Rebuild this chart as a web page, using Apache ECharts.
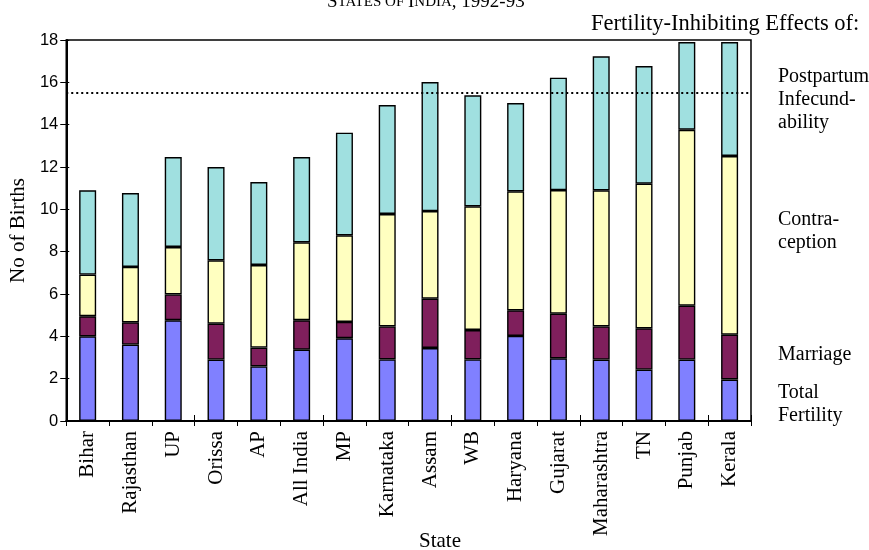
<!DOCTYPE html>
<html>
<head>
<meta charset="utf-8">
<script src="https://cdn.jsdelivr.net/npm/echarts@6/dist/echarts.min.js"></script>
<style>html,body{margin:0;padding:0;background:#fff}#c{width:869px;height:550px}</style>
</head>
<body>
<div id="c"></div>
<script>
const categories = ['Bihar','Rajasthan','UP','Orissa','AP','All India','MP','Karnataka','Assam','WB','Haryana','Gujarat','Maharashtra','TN','Punjab','Kerala'];
const totalFertility = [4.0, 3.61, 4.76, 2.9, 2.58, 3.37, 3.91, 2.91, 3.45, 2.91, 4.02, 2.96, 2.9, 2.43, 2.9, 1.96];
const marriage = [0.95, 1.05, 1.22, 1.7, 0.89, 1.39, 0.77, 1.56, 2.33, 1.39, 1.21, 2.11, 1.57, 1.95, 2.55, 2.12];
const contraception = [1.97, 2.62, 2.24, 2.99, 3.9, 3.68, 4.09, 5.31, 4.14, 5.84, 5.62, 5.84, 6.43, 6.83, 8.31, 8.44];
const postpartum = [3.98, 3.49, 4.25, 4.41, 3.92, 4.03, 4.85, 5.15, 6.09, 5.25, 4.17, 5.31, 6.33, 5.56, 4.14, 5.38];
const totalFecundity = 15.5;
const yTicks = [0, 2, 4, 6, 8, 10, 12, 14, 16, 18];

const serif = '"Liberation Serif", "Times New Roman", serif';
const sans = '"Liberation Sans", Arial, sans-serif';

const chart = echarts.init(document.getElementById('c'));

function seg(name, data, color, extra) {
  return Object.assign({
    name: name, type: 'bar', stack: 'all', data: data, barWidth: 17,
    itemStyle: { color: color, borderColor: '#000', borderWidth: 1.4 },
    emphasis: { disabled: true }, animation: false
  }, extra || {});
}

const legendText = [
  ['Postpartum', 77], ['Infecund-', 100], ['ability', 123],
  ['Contra-', 220], ['ception', 243],
  ['Marriage', 355],
  ['Total', 393], ['Fertility', 416]
];

chart.setOption({
  animation: false,
  backgroundColor: '#fff',
  title: {
    text: '{a|S}{b|TATES OF }{a|I}{b|NDIA}{a|, 1992-93}',
    left: 327, top: -7, padding: 0,
    textStyle: {
      fontWeight: 'normal',
      rich: {
        a: { fontFamily: serif, fontSize: 19, fontWeight: 'normal', color: '#000' },
        b: { fontFamily: serif, fontSize: 15, fontWeight: 'normal', color: '#000' }
      }
    }
  },
  grid: { left: 55, top: 40, width: 696, height: 381, show: true, borderColor: '#000', borderWidth: 1.5, backgroundColor: 'transparent' },
  xAxis: [{
    type: 'category', data: categories, position: 'bottom',
    axisLine: { lineStyle: { color: '#000', width: 2 } },
    axisTick: { show: true, length: 5, lineStyle: { color: '#000', width: 1 } },
    axisLabel: { rotate: 90, margin: 10, fontFamily: serif, fontSize: 21, color: '#000', interval: 0 },
    splitLine: { show: false }
  }, {
    type: 'category', data: categories, position: 'bottom',
    axisLine: { show: false },
    axisTick: { show: true, inside: true, length: 6, lineStyle: { color: '#000', width: 1 } },
    axisLabel: { show: false }, splitLine: { show: false }
  }],
  yAxis: [{
    type: 'value', min: 0, max: 18, interval: 2,
    name: 'No of Births', nameLocation: 'middle', nameGap: 33, nameRotate: 90,
    nameTextStyle: { fontFamily: serif, fontSize: 21, color: '#000' },
    axisLine: { show: true, lineStyle: { color: '#000', width: 2 } },
    axisTick: { show: true, length: 6, lineStyle: { color: '#000', width: 1 } },
    axisLabel: { fontFamily: sans, fontSize: 16.5, color: '#000', margin: 8,
      formatter: v => yTicks.indexOf(v) >= 0 ? String(v) : '' },
    splitLine: { show: false }
  }, {
    type: 'value', min: 0, max: 18, interval: 2, position: 'left',
    axisLine: { show: false },
    axisTick: { show: true, inside: true, length: 3, lineStyle: { color: '#000', width: 1 } },
    axisLabel: { show: false }, splitLine: { show: false }
  }],
  series: [
    seg('Total Fertility', totalFertility, '#8080FF', {
      markLine: {
        silent: true, symbol: ['none', 'none'], label: { show: false },
        lineStyle: { color: '#000', type: [2, 3], width: 2 },
        data: [{ yAxis: totalFecundity }], animation: false
      }
    }),
    seg('Marriage', marriage, '#7F1F5C'),
    seg('Contraception', contraception, '#FFFFC0'),
    seg('Postpartum Infecundability', postpartum, '#A0E0E0')
  ],
  graphic: [
    { type: 'text', left: 591, top: 13, style: { text: 'Fertility-Inhibiting Effects of:', fontFamily: serif, fontSize: 22.5, fill: '#000' } },
    { type: 'text', x: 440, y: 541, style: { text: 'State', fontFamily: serif, fontSize: 21, fill: '#000', align: 'center', verticalAlign: 'middle' } }
  ].concat(legendText.map(t => ({
    type: 'text', x: 778, y: t[1],
    style: { text: t[0], fontFamily: serif, fontSize: 20, fill: '#000', align: 'left', verticalAlign: 'middle' }
  })))
});
</script>
</body>
</html>
